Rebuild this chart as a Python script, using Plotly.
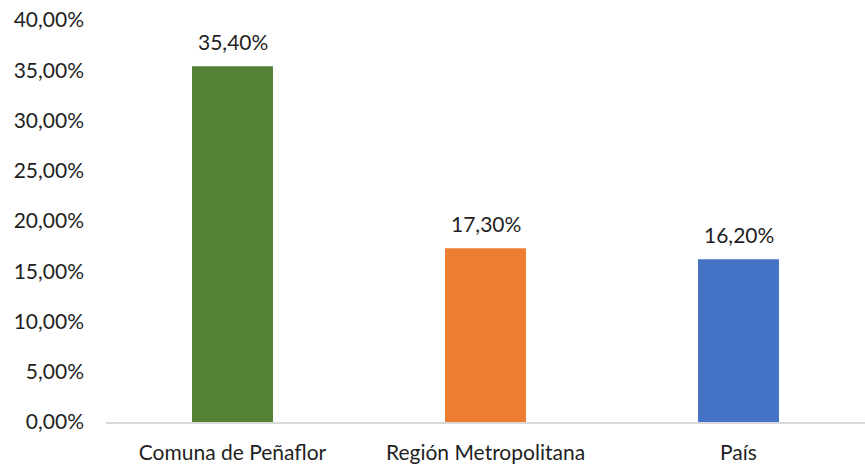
import plotly.graph_objects as go

categories = ["Comuna de Peñaflor", "Región Metropolitana", "País"]
values = [0.354, 0.173, 0.162]
colors = ["#548235", "#ED7D31", "#4472C4"]
tick_vals = [0, 0.05, 0.10, 0.15, 0.20, 0.25, 0.30, 0.35, 0.40]

font_family = "Lato, 'Open Sans', sans-serif"
text_color = "#1f1f1f"
fsize = 21

fig = go.Figure()
fig.add_trace(go.Bar(
    x=categories, y=values, marker=dict(color=colors, line=dict(width=0)),
    width=0.32, hoverinfo="skip", showlegend=False,
))

for c, v in zip(categories, values):
    fig.add_annotation(
        x=c, y=v, text=f"{v*100:.2f}%".replace(".", ","),
        showarrow=False, yanchor="bottom", yshift=10,
        font=dict(family=font_family, size=fsize, color=text_color),
    )

fig.update_layout(
    width=865, height=468,
    margin=dict(l=106, r=0, t=20, b=46, autoexpand=False),
    paper_bgcolor="white", plot_bgcolor="white",
    separators=",.",
    font=dict(family=font_family, size=fsize, color=text_color),
    xaxis=dict(
        showline=True, linecolor="#d9d9d9", linewidth=1.5,
        showgrid=False, ticks="", ticklabelstandoff=11,
        tickfont=dict(size=fsize), automargin=False,
    ),
    yaxis=dict(
        range=[0, 0.40], tickvals=tick_vals, tickformat=".2%",
        showgrid=False, zeroline=False, showline=False,
        ticks="", ticklabelstandoff=21, tickfont=dict(size=fsize),
        automargin=False,
    ),
)

fig.write_html(
    "out.html",
    config={"displayModeBar": False, "staticPlot": True},
    post_script="document.body.style.margin='0';document.body.style.overflow='hidden';",
)
